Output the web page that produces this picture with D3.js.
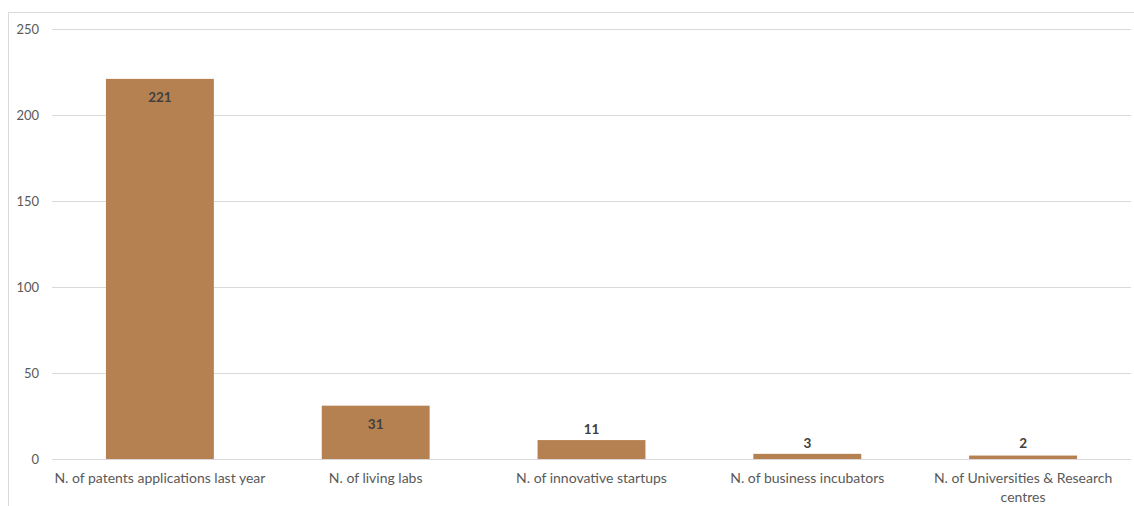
<!DOCTYPE html>
<html><head><meta charset="utf-8">
<script src="https://cdn.jsdelivr.net/npm/d3@7"></script>
<style>body{margin:0;background:#fff;}svg{display:block;}</style>
</head><body>
<svg id="chart" width="1134" height="506"></svg>
<script>
const categories = [
  ["N. of patents applications last year"],
  ["N. of living labs"],
  ["N. of innovative startups"],
  ["N. of business incubators"],
  ["N. of Universities & Research", "centres"]
];
const values = [221, 31, 11, 3, 2];
const yTicks = [0, 50, 100, 150, 200, 250];

const svg = d3.select("#chart");
const W = 1134, H = 506;
const m = {left: 52, right: 3, top: 29, bottom: 47};
const font = "Lato, 'Open Sans', sans-serif";

// outer border
svg.append("rect").attr("x", 8.5).attr("y", 12.5).attr("width", W + 10).attr("height", H + 10)
  .attr("fill", "none").attr("stroke", "#d9d9d9").attr("stroke-width", 1);

const x = d3.scaleBand().domain(d3.range(values.length)).range([m.left, W - m.right]).paddingInner(0.5).paddingOuter(0.25);
const y = d3.scaleLinear().domain([0, 250]).range([H - m.bottom, m.top]);

// gridlines
svg.append("g").selectAll("line").data(yTicks).join("line")
  .attr("x1", m.left).attr("x2", W - m.right)
  .attr("y1", d => Math.round(y(d)) + 0.5).attr("y2", d => Math.round(y(d)) + 0.5)
  .attr("stroke", "#d9d9d9").attr("stroke-width", 1);

// y tick labels
svg.append("g").selectAll("text").data(yTicks).join("text")
  .attr("x", 39).attr("y", d => y(d)).attr("dy", "0.35em")
  .attr("text-anchor", "end").attr("font-family", font).attr("font-size", 13)
  .attr("fill", "#595959").text(d => d);

// bars
svg.append("g").selectAll("rect").data(values).join("rect")
  .attr("x", (d, i) => x(i)).attr("width", x.bandwidth())
  .attr("y", d => y(d)).attr("height", d => y(0) - y(d))
  .attr("fill", "#b58150");

// value labels
svg.append("g").selectAll("text").data(values).join("text")
  .attr("x", (d, i) => x(i) + x.bandwidth() / 2)
  .attr("y", (d, i) => d > 20 ? y(d) + 23 : Math.min(y(d) - 6, 448))
  .attr("text-anchor", "middle").attr("font-family", font).attr("font-size", 13.5)
  .attr("font-weight", "bold").attr("fill", "#404040").text(d => d);

// x category labels
const xl = svg.append("g").selectAll("text").data(categories).join("text")
  .attr("x", (d, i) => x(i) + x.bandwidth() / 2).attr("y", 483)
  .attr("text-anchor", "middle").attr("font-family", font).attr("font-size", 14)
  .attr("fill", "#595959");
xl.selectAll("tspan").data(d => d).join("tspan")
  .attr("x", function() { return d3.select(this.parentNode).attr("x"); })
  .attr("dy", (d, j) => j === 0 ? 0 : 19).text(d => d);
</script>
</body></html>
